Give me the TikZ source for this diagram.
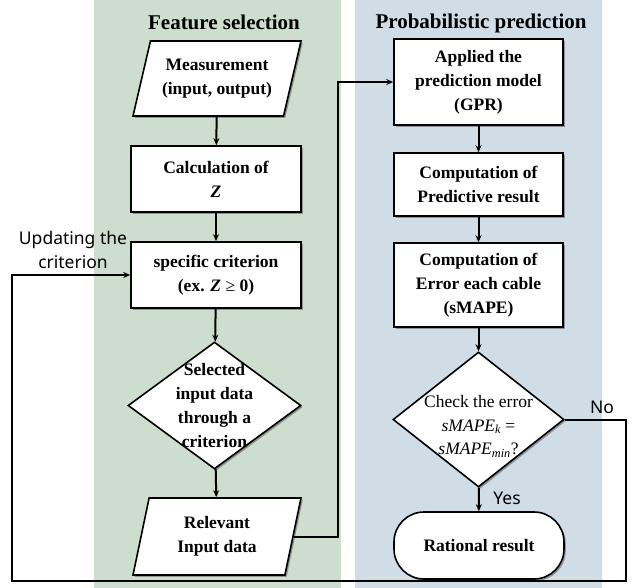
\documentclass[tikz,border=0pt]{standalone}
\usepackage{fontspec}
\setmainfont{Liberation Serif}
\newfontfamily\sansf{Noto Sans}
\usetikzlibrary{shapes.geometric,arrows.meta,shadows}
\definecolor{fsgreen}{RGB}{205,221,206}
\definecolor{ppblue}{RGB}{208,220,230}
\begin{document}
\begin{tikzpicture}[x=1pt,y=-1pt,
  base/.style={draw=black,line width=1.6pt,fill=white,inner sep=0pt,
    font=\bfseries\fontsize{17.5}{24}\selectfont,align=center,
    drop shadow={shadow xshift=1.8pt,shadow yshift=-1.8pt,opacity=0.5,fill=black!70}},
  boxn/.style={base,rectangle,minimum width=170pt},
  para/.style={base,trapezium,trapezium left angle=66,trapezium right angle=114,
    trapezium stretches body,minimum width=168pt},
  dia/.style={base,diamond},
  dtext/.style={font=\bfseries\fontsize{17.5}{24}\selectfont,align=center,inner sep=0pt},
  title/.style={font=\bfseries\fontsize{21}{24}\selectfont,anchor=base},
  lab/.style={font=\sansf\fontsize{17.5}{24}\selectfont,align=center},
  arr/.style={line width=2pt,-{Stealth[length=7pt,width=6pt]}},
  ln/.style={line width=2pt}
]
\useasboundingbox (0,0) rectangle (637,588);
\fill[fsgreen] (94,0) rectangle (341,588);
\fill[ppblue] (355,0) rectangle (602,588);

\node[title] (t1) at (224,30) {Feature selection};
\node[title] (t2) at (481,29) {Probabilistic prediction};

% left column
\node[para,minimum height=75pt] (meas) at (217,78.5) {Measurement\\(input, output)};
\node[boxn,minimum height=66pt] (calc) at (216,179) {Calculation of\\\textit{Z}};
\node[boxn,minimum height=66pt] (crit) at (216,275) {specific criterion\\(ex. \textit{Z} {\mdseries ≥} 0)};
\node[dia,minimum width=173pt,minimum height=127pt,
  label={[dtext]center:Selected\\input data\\through a\\criterion}] (sel) at (214.5,405.5) {};
\node[para,minimum height=77pt,trapezium left angle=68,trapezium right angle=112] (rel) at (217,536.5) {Relevant\\Input data};

% right column
\node[boxn,minimum width=169pt,minimum height=86pt] (app) at (478.5,82) {Applied the\\prediction model\\(GPR)};
\node[boxn,minimum width=169pt,minimum height=63pt] (pred) at (478.5,184.5) {Computation of\\Predictive result};
\node[boxn,minimum width=169pt,minimum height=84pt] (err) at (478.5,285) {Computation of\\Error each cable\\(sMAPE)};
\node[dia,minimum width=171pt,minimum height=135pt,
  label={[dtext,font=\fontsize{17.5}{23.5}\selectfont,yshift=-7pt]center:Check the error\\{\itshape sMAPE\textsubscript{k}} =\\{\itshape sMAPE\textsubscript{min}}?}] (chk) at (478.5,419.5) {};
\node[boxn,minimum width=170pt,minimum height=67pt,rounded corners=30pt] (rat) at (479,545.5) {Rational result};

% labels
\node[lab] (upd) at (73,250) {Updating the\\criterion};
\node[lab,anchor=center] (yes) at (507,498) {Yes};
\node[lab,anchor=center] (no) at (602,407) {No};

\coordinate (vx) at (338,0);
\coordinate (rx) at (626,0);
\coordinate (lx) at (12,0);
\coordinate (by) at (0,581);

% connectors
\draw[arr] (meas) -- (calc);
\draw[arr] (calc) -- (crit);
\draw[arr] (crit) -- (sel);
\draw[arr] (sel) -- (rel);
\draw[arr] (rel.east) -- (rel.east -| vx) |- (app.west);
\draw[arr] (app) -- (pred);
\draw[arr] (pred) -- (err);
\draw[arr] (err) -- (chk);
\draw[arr] (chk) -- (rat);
\draw[arr] (chk.east) -- (chk.east -| rx) -- (rx |- by) -- (lx |- by) |- (crit.west);
\end{tikzpicture}
\end{document}
